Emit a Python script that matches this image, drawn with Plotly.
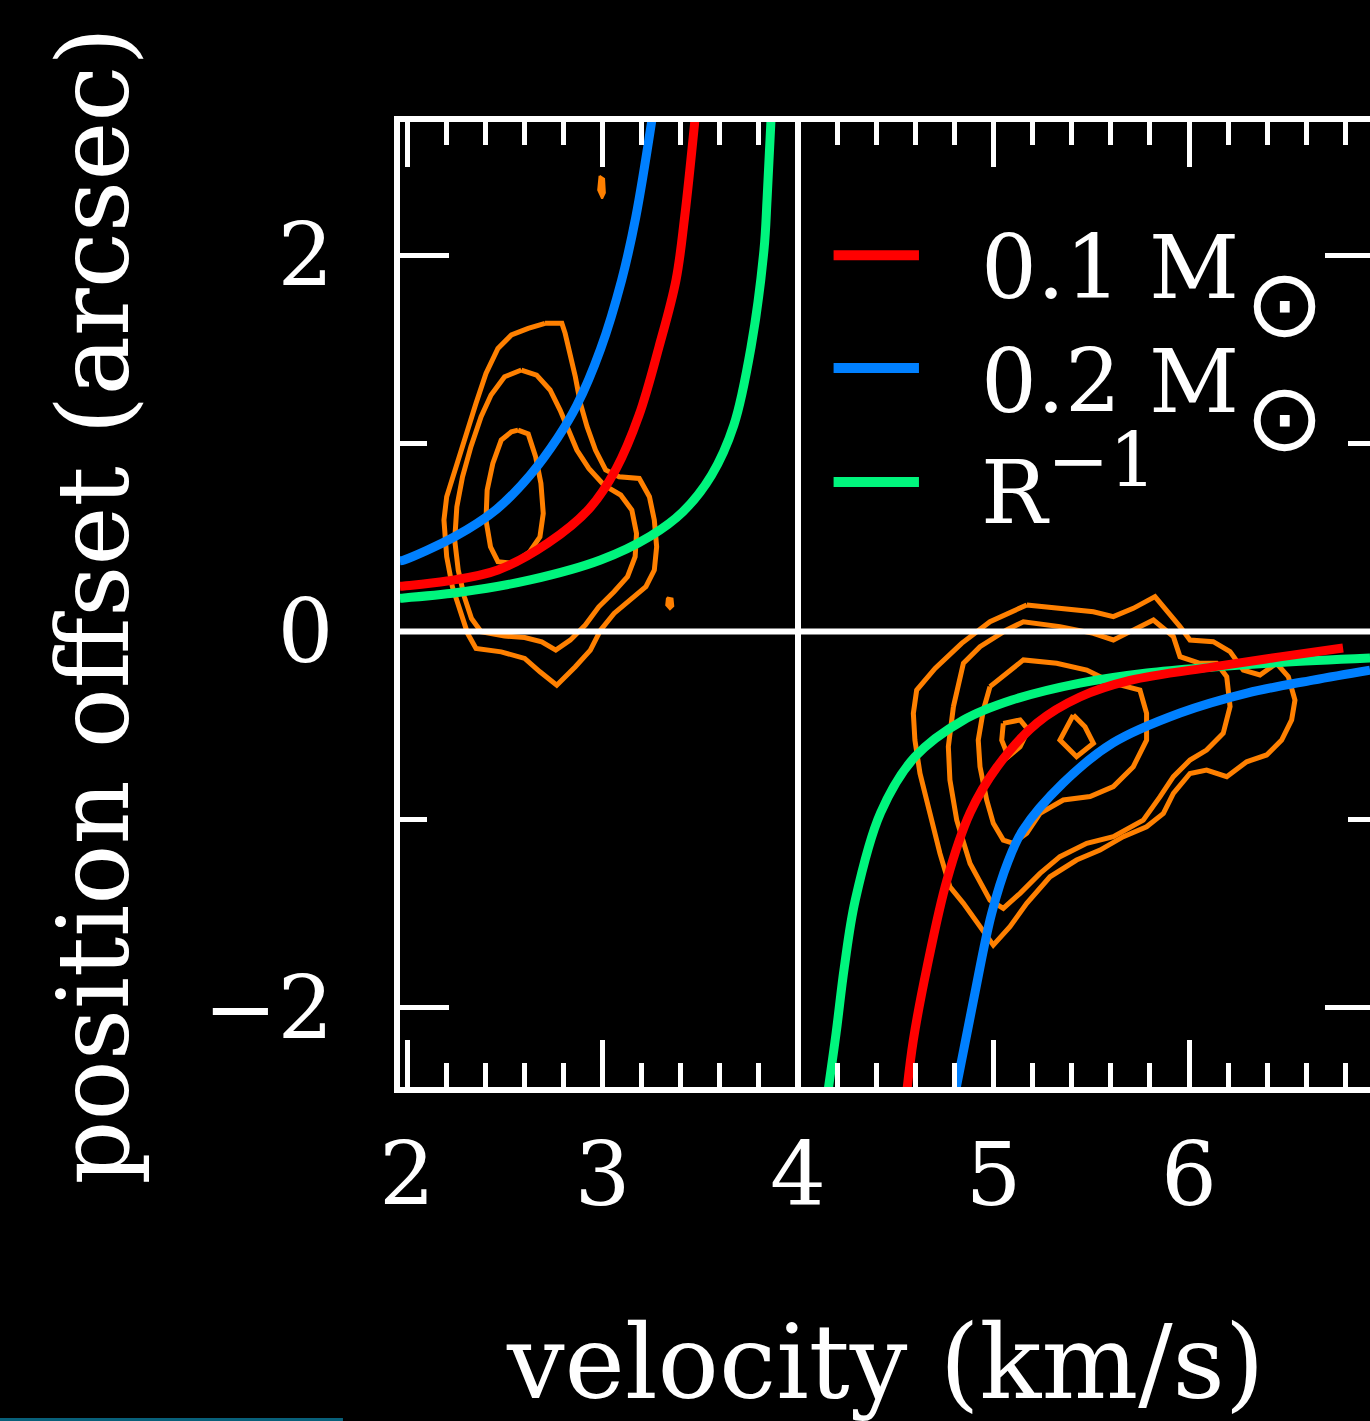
import plotly.graph_objects as go

# ---------------- data (velocity km/s, position offset arcsec) ----------------
# Model curves, upper-left branch (offset > 0)
blue_up_x = [3.253, 3.170, 3.098, 2.990, 2.868, 2.770, 2.630, 2.460, 2.250, 1.985, 1.964]
blue_up_y = [2.720, 2.200, 1.867, 1.500, 1.200, 1.028, 0.831, 0.651, 0.507, 0.380, 0.375]
red_up_x = [3.473, 3.420, 3.376, 3.289, 3.187, 3.069, 2.931, 2.721, 2.465, 2.205, 1.985, 1.964]
red_up_y = [2.720, 2.200, 1.867, 1.512, 1.150, 0.863, 0.651, 0.470, 0.327, 0.268, 0.242, 0.240]
green_up_x = [3.862, 3.842, 3.826, 3.760, 3.672, 3.558, 3.410, 3.245, 2.990, 2.630, 2.280, 1.985, 1.964]
green_up_y = [2.720, 2.300, 2.027, 1.512, 1.097, 0.831, 0.635, 0.507, 0.380, 0.274, 0.210, 0.178, 0.176]

# Model curves, lower-right branch (offset < 0)
green_lo_x = [4.155, 4.195, 4.237, 4.293, 4.422, 4.597, 4.847, 5.095, 5.442, 5.785, 6.123, 6.465, 6.926]
green_lo_y = [-2.430, -2.133, -1.783, -1.426, -0.964, -0.667, -0.470, -0.364, -0.274, -0.220, -0.189, -0.165, -0.141]
red_lo_x = [4.558, 4.590, 4.660, 4.762, 4.880, 5.018, 5.223, 5.442, 5.698, 6.123, 6.465, 6.788]
red_lo_y = [-2.430, -2.170, -1.783, -1.320, -0.964, -0.720, -0.486, -0.348, -0.260, -0.188, -0.135, -0.088]
blue_lo_x = [4.808, 4.898, 4.990, 5.075, 5.151, 5.356, 5.611, 5.954, 6.297, 6.634, 6.926]
blue_lo_y = [-2.430, -1.957, -1.500, -1.220, -1.054, -0.805, -0.592, -0.433, -0.327, -0.258, -0.205]

# Observed emission contours, blueshifted lobe (upper left)
ul1_x = [2.706, 2.792, 2.809, 2.835, 2.861, 2.887, 2.921, 2.964, 3.016, 3.085, 3.188, 3.240, 3.265, 3.277,
         3.265, 3.222, 3.145, 3.059, 2.990, 2.938, 2.861, 2.766, 2.680, 2.602, 2.482, 2.353, 2.310, 2.275,
         2.232, 2.203, 2.189, 2.203, 2.249, 2.301, 2.353, 2.404, 2.465, 2.534, 2.620, 2.706]
ul1_y = [1.637, 1.637, 1.584, 1.477, 1.353, 1.212, 1.088, 0.964, 0.858, 0.822, 0.813, 0.716, 0.592, 0.450,
         0.326, 0.238, 0.167, 0.096, 0.007, -0.099, -0.187, -0.285, -0.214, -0.143, -0.108, -0.090, -0.010, 0.096,
         0.238, 0.397, 0.592, 0.716, 0.875, 1.052, 1.212, 1.371, 1.504, 1.575, 1.610, 1.637]
ul2_x = [2.585, 2.663, 2.732, 2.783, 2.826, 2.869, 2.930, 3.007, 3.093, 3.150, 3.174, 3.167, 3.128, 3.059,
         2.981, 2.912, 2.835, 2.761, 2.689, 2.602, 2.499, 2.379, 2.330, 2.293, 2.262, 2.244, 2.255, 2.284,
         2.327, 2.379, 2.430, 2.499, 2.585]
ul2_y = [1.389, 1.362, 1.283, 1.176, 1.070, 0.964, 0.866, 0.778, 0.725, 0.645, 0.521, 0.397, 0.291, 0.211,
         0.131, 0.034, -0.046, -0.099, -0.055, -0.032, -0.024, -0.001, 0.069, 0.185, 0.326, 0.486, 0.663, 0.822,
         0.982, 1.141, 1.256, 1.353, 1.389]
ul3_x = [2.568, 2.620, 2.658, 2.685, 2.697, 2.680, 2.628, 2.542, 2.465, 2.427, 2.404, 2.410, 2.439, 2.482, 2.534, 2.568]
ul3_y = [1.070, 1.049, 0.928, 0.787, 0.627, 0.503, 0.424, 0.362, 0.371, 0.450, 0.592, 0.751, 0.893, 1.017, 1.061, 1.070]
dot1_x = [2.985, 3.008, 3.012, 2.998, 2.978, 2.985]
dot1_y = [2.420, 2.405, 2.330, 2.300, 2.345, 2.420]
dot2_x = [3.330, 3.358, 3.362, 3.345, 3.326, 3.330]
dot2_y = [0.180, 0.175, 0.135, 0.118, 0.140, 0.180]

# Observed emission contours, redshifted lobe (lower right)
lr1_x = [5.170, 5.340, 5.511, 5.613, 5.715, 5.826, 5.886, 5.954, 6.005, 6.124, 6.210, 6.278, 6.363, 6.448,
         6.508, 6.542, 6.525, 6.474, 6.397, 6.295, 6.193, 6.090, 6.005, 5.920, 5.869, 5.783, 5.664, 5.545,
         5.425, 5.289, 5.170, 5.084, 4.999, 4.931, 4.846, 4.777, 4.726, 4.675, 4.624, 4.598, 4.590, 4.607,
         4.701, 4.837, 4.982, 5.170]
lr1_y = [0.141, 0.123, 0.105, 0.079, 0.123, 0.185, 0.114, 0.026, -0.045, -0.054, -0.107, -0.205, -0.231, -0.169,
         -0.240, -0.364, -0.470, -0.577, -0.656, -0.692, -0.771, -0.736, -0.754, -0.860, -0.966, -1.037, -1.090, -1.161,
         -1.214, -1.303, -1.444, -1.568, -1.666, -1.568, -1.444, -1.356, -1.179, -0.966, -0.754, -0.577, -0.435, -0.311,
         -0.196, -0.063, 0.052, 0.141]
lr2_x = [4.795, 4.846, 4.931, 5.067, 5.153, 5.340, 5.511, 5.613, 5.681, 5.818, 5.920, 5.954, 6.056, 6.141,
         6.193, 6.210, 6.175, 6.090, 6.005, 5.920, 5.852, 5.766, 5.613, 5.477, 5.340, 5.238, 5.136, 5.050,
         4.982, 4.880, 4.812, 4.777, 4.769, 4.795]
lr2_y = [-0.399, -0.169, -0.081, 0.008, 0.052, 0.026, -0.010, -0.045, -0.010, 0.061, -0.027, -0.134, -0.169, -0.169,
         -0.240, -0.399, -0.541, -0.630, -0.683, -0.771, -0.877, -1.002, -1.090, -1.125, -1.196, -1.285, -1.391, -1.471,
         -1.427, -1.232, -1.002, -0.789, -0.612, -0.399]
lr3_x = [4.982, 5.153, 5.323, 5.477, 5.613, 5.749, 5.783, 5.783, 5.715, 5.613, 5.494, 5.357, 5.238, 5.170,
         5.101, 5.050, 4.999, 4.965, 4.931, 4.922, 4.948, 4.982]
lr3_y = [-0.293, -0.151, -0.169, -0.205, -0.275, -0.311, -0.435, -0.577, -0.718, -0.824, -0.877, -0.895, -0.966, -1.072,
         -1.125, -1.108, -1.019, -0.895, -0.718, -0.577, -0.417, -0.293]
lr4a_x = [5.050, 5.136, 5.178, 5.136, 5.076, 5.042, 5.050]
lr4a_y = [-0.488, -0.470, -0.523, -0.612, -0.665, -0.577, -0.488]
lr4b_x = [5.408, 5.468, 5.511, 5.425, 5.340, 5.408]
lr4b_y = [-0.444, -0.506, -0.594, -0.665, -0.577, -0.444]

# axis / legend text
x_ticks = [2, 3, 4, 5, 6]
y_ticks = [-2, 0, 2]
y_ticktext = ["−2", "0", "2"]
x_range = [1.9642, 6.9258]
y_range = [-2.4197, 2.7065]
v_sys = 4
legend_labels = ["0.1 M", "0.2 M", "R<sup><span style='font-size:74px'>−1</span></sup>"]
legend_sun = ["⊙", "⊙", ""]

# ---------------- styling ----------------
FONT = "DejaVu Serif"
WHITE = "white"
ORANGE = "#ff8000"
RED = "#ff0000"
BLUE = "#0080ff"
GREEN = "#00f57d"

fig = go.Figure()

contours = [(ul1_x, ul1_y), (ul2_x, ul2_y), (ul3_x, ul3_y),
            (lr1_x, lr1_y), (lr2_x, lr2_y), (lr3_x, lr3_y), (lr4a_x, lr4a_y), (lr4b_x, lr4b_y)]
for cx, cy in contours:
    fig.add_trace(go.Scatter(x=cx, y=cy, mode="lines", line=dict(color=ORANGE, width=5),
                             hoverinfo="skip", showlegend=False))
for cx, cy in [(dot1_x, dot1_y), (dot2_x, dot2_y)]:
    fig.add_trace(go.Scatter(x=cx, y=cy, mode="lines", fill="toself", fillcolor=ORANGE,
                             line=dict(color=ORANGE, width=2), hoverinfo="skip", showlegend=False))

curves = [(blue_up_x, blue_up_y, BLUE), (red_up_x, red_up_y, RED), (green_up_x, green_up_y, GREEN),
          (green_lo_x, green_lo_y, GREEN), (red_lo_x, red_lo_y, RED), (blue_lo_x, blue_lo_y, BLUE)]
for cx, cy, col in curves:
    fig.add_trace(go.Scatter(x=cx, y=cy, mode="lines",
                             line=dict(color=col, width=9, shape="spline", smoothing=1.0),
                             hoverinfo="skip", showlegend=False))

# empty trace to carry the mirrored (top/right) axes
fig.add_trace(go.Scatter(x=[], y=[], xaxis="x2", yaxis="y2", showlegend=False))

tickfont = dict(family=FONT, size=88, color=WHITE)
fig.update_layout(
    width=1370, height=1421,
    template="none",
    paper_bgcolor="black", plot_bgcolor="black",
    margin=dict(l=400, r=0, t=122, b=334, autoexpand=False),
    showlegend=False,
    xaxis=dict(range=x_range, domain=[0, 1], anchor="y", side="bottom",
               tickmode="array", tickvals=x_ticks, ticktext=[str(t) for t in x_ticks],
               ticks="inside", ticklen=47, tickwidth=5, tickcolor=WHITE,
               minor=dict(dtick=0.2, tick0=0, ticks="inside", ticklen=24, tickwidth=5, tickcolor=WHITE, showgrid=False),
               showline=True, linewidth=6, linecolor=WHITE, showgrid=False, zeroline=False,
               tickfont=tickfont, ticklabelstandoff=6),
    xaxis2=dict(range=x_range, domain=[0, 1], anchor="y", overlaying="x", side="top",
                dtick=1, tick0=0, showticklabels=False,
                ticks="inside", ticklen=45, tickwidth=5, tickcolor=WHITE,
                minor=dict(dtick=0.2, tick0=0, ticks="inside", ticklen=23, tickwidth=5, tickcolor=WHITE, showgrid=False),
                showline=True, linewidth=6, linecolor=WHITE, showgrid=False, zeroline=False),
    yaxis=dict(range=y_range, domain=[0, 1], anchor="x", side="left",
               tickmode="array", tickvals=y_ticks, ticktext=y_ticktext,
               ticks="inside", ticklen=49, tickwidth=5, tickcolor=WHITE,
               minor=dict(dtick=1, tick0=0, ticks="inside", ticklen=27, tickwidth=5, tickcolor=WHITE, showgrid=False),
               showline=True, linewidth=6, linecolor=WHITE, showgrid=False, zeroline=False,
               tickfont=tickfont, ticklabelstandoff=43),
    yaxis2=dict(range=y_range, domain=[0, 1], anchor="x", overlaying="y", side="right",
                dtick=2, tick0=0, showticklabels=False,
                ticks="inside", ticklen=45, tickwidth=5, tickcolor=WHITE,
                minor=dict(dtick=1, tick0=0, ticks="inside", ticklen=22, tickwidth=5, tickcolor=WHITE, showgrid=False),
                showline=False, showgrid=False, zeroline=False),
)

# reference lines: systemic velocity and zero offset
fig.add_shape(type="line", xref="x", yref="paper", x0=v_sys, x1=v_sys, y0=0, y1=1,
              line=dict(color=WHITE, width=6), layer="above")
fig.add_shape(type="line", xref="paper", yref="y", x0=0, x1=1, y0=0, y1=0,
              line=dict(color=WHITE, width=6), layer="above")

# hand-built legend
leg_line_y = [0.862, 0.745, 0.627]
leg_text_y = [0.8497, 0.7316, 0.628]
leg_cols = [RED, BLUE, GREEN]
for ly, ty, col, lab, sun in zip(leg_line_y, leg_text_y, leg_cols, legend_labels, legend_sun):
    fig.add_shape(type="line", xref="paper", yref="paper", x0=0.447, x1=0.535, y0=ly, y1=ly,
                  line=dict(color=col, width=10), layer="above")
    fig.add_annotation(xref="paper", yref="paper", x=0.597, y=ty, xanchor="left", yanchor="middle",
                       text=lab, showarrow=False, font=dict(family=FONT, size=88, color=WHITE))
    if sun:
        # solar-mass subscript symbol, drawn lowered below the baseline
        fig.add_annotation(xref="paper", yref="paper", x=(1284 - 400) / 970, y=ty - 0.0375,
                           xanchor="center", yanchor="middle", text=sun, showarrow=False,
                           font=dict(family="DejaVu Sans", size=94, color=WHITE))

# axis titles
fig.add_annotation(xref="paper", yref="paper", x=0.5, y=-0.285, xanchor="center", yanchor="middle",
                   text="velocity (km/s)", showarrow=False, font=dict(family=FONT, size=102, color=WHITE))
fig.add_annotation(xref="paper", yref="paper", x=-0.315, y=0.4995, xanchor="center", yanchor="middle",
                   text="position offset (arcsec)", textangle=-90, showarrow=False,
                   font=dict(family=FONT, size=100, color=WHITE))

# thin cyan strip at the lower-left edge of the original image
fig.add_shape(type="line", xref="paper", yref="paper", x0=-0.4124, x1=-0.0588, y0=-0.3446, y1=-0.3446,
              line=dict(color="#08607a", width=3), layer="above")

fig.write_html("out.html", config={"displayModeBar": False},
               post_script="document.body.style.margin='0';document.body.style.background='black';")
